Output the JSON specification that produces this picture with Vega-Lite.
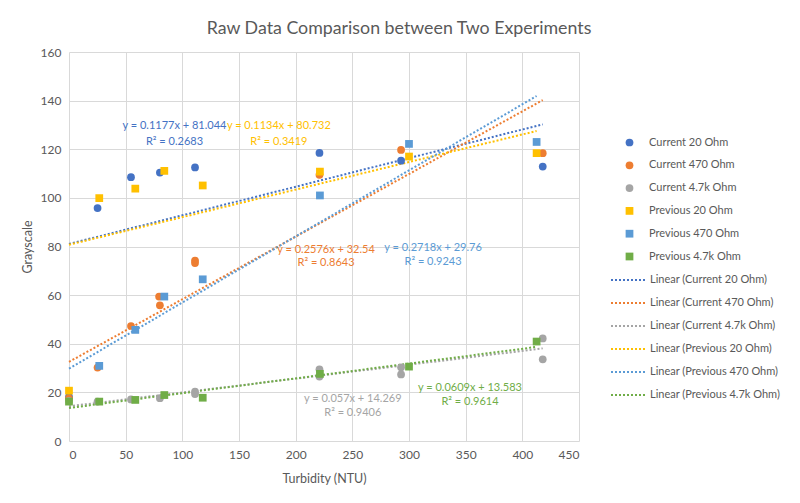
{
  "$schema": "https://vega.github.io/schema/vega-lite/v6.json",
  "width": 510,
  "height": 389,
  "autosize": {"type": "none"},
  "padding": {"left": 69, "top": 52, "right": 221, "bottom": 62},
  "background": "white",
  "title": {
    "text": "Raw Data Comparison between Two Experiments",
    "anchor": "middle",
    "frame": "group",
    "dx": 75,
    "offset": 8,
    "font": "Lato",
    "fontSize": 17.8,
    "fontWeight": "normal",
    "color": "#595959"
  },
  "config": {
    "view": {"stroke": null},
    "axis": {
      "labelFont": "Lato",
      "labelFontSize": 12,
      "labelColor": "#595959",
      "titleFont": "Lato",
      "titleFontSize": 12.5,
      "titleFontWeight": "normal",
      "titleColor": "#595959",
      "gridColor": "#d9d9d9",
      "gridWidth": 1,
      "ticks": false,
      "domain": false
    },
    "legend": {
      "labelFont": "Lato",
      "labelFontSize": 11,
      "labelColor": "#595959",
      "padding": 0
    }
  },
  "datasets": {
    "points": [
      {"series": "Current 20 Ohm", "turbidity": 0, "gray": 18.2},
      {"series": "Current 20 Ohm", "turbidity": 25.2, "gray": 95.8},
      {"series": "Current 20 Ohm", "turbidity": 54.7, "gray": 108.5},
      {"series": "Current 20 Ohm", "turbidity": 80.2, "gray": 110.4},
      {"series": "Current 20 Ohm", "turbidity": 111.2, "gray": 112.5},
      {"series": "Current 20 Ohm", "turbidity": 221, "gray": 118.5},
      {"series": "Current 20 Ohm", "turbidity": 293, "gray": 115.3},
      {"series": "Current 20 Ohm", "turbidity": 418, "gray": 112.9},
      {"series": "Current 470 Ohm", "turbidity": 0, "gray": 17.5},
      {"series": "Current 470 Ohm", "turbidity": 25.2, "gray": 30.2},
      {"series": "Current 470 Ohm", "turbidity": 54.7, "gray": 47.3},
      {"series": "Current 470 Ohm", "turbidity": 79.5, "gray": 59.4},
      {"series": "Current 470 Ohm", "turbidity": 80.2, "gray": 55.8},
      {"series": "Current 470 Ohm", "turbidity": 111.2, "gray": 74.2},
      {"series": "Current 470 Ohm", "turbidity": 111.2, "gray": 73.2},
      {"series": "Current 470 Ohm", "turbidity": 221, "gray": 109.5},
      {"series": "Current 470 Ohm", "turbidity": 293, "gray": 119.7},
      {"series": "Current 470 Ohm", "turbidity": 418, "gray": 118.4},
      {"series": "Current 4.7k Ohm", "turbidity": 0, "gray": 16.5},
      {"series": "Current 4.7k Ohm", "turbidity": 25.2, "gray": 16.2},
      {"series": "Current 4.7k Ohm", "turbidity": 54.7, "gray": 17.1},
      {"series": "Current 4.7k Ohm", "turbidity": 80.2, "gray": 17.6},
      {"series": "Current 4.7k Ohm", "turbidity": 111.2, "gray": 20.3},
      {"series": "Current 4.7k Ohm", "turbidity": 111.2, "gray": 19.3},
      {"series": "Current 4.7k Ohm", "turbidity": 221, "gray": 29.5},
      {"series": "Current 4.7k Ohm", "turbidity": 221, "gray": 26.5},
      {"series": "Current 4.7k Ohm", "turbidity": 293, "gray": 30.3},
      {"series": "Current 4.7k Ohm", "turbidity": 293, "gray": 27.4},
      {"series": "Current 4.7k Ohm", "turbidity": 418, "gray": 42.2},
      {"series": "Current 4.7k Ohm", "turbidity": 418, "gray": 33.6},
      {"series": "Previous 20 Ohm", "turbidity": 0, "gray": 20.7},
      {"series": "Previous 20 Ohm", "turbidity": 26.7, "gray": 99.9},
      {"series": "Previous 20 Ohm", "turbidity": 58.5, "gray": 103.8},
      {"series": "Previous 20 Ohm", "turbidity": 84.1, "gray": 111.1},
      {"series": "Previous 20 Ohm", "turbidity": 118, "gray": 105.1},
      {"series": "Previous 20 Ohm", "turbidity": 221.4, "gray": 110.8},
      {"series": "Previous 20 Ohm", "turbidity": 300, "gray": 117},
      {"series": "Previous 20 Ohm", "turbidity": 412.6, "gray": 118.4},
      {"series": "Previous 470 Ohm", "turbidity": 26.7, "gray": 30.9},
      {"series": "Previous 470 Ohm", "turbidity": 58.5, "gray": 45.7},
      {"series": "Previous 470 Ohm", "turbidity": 84.1, "gray": 59.4},
      {"series": "Previous 470 Ohm", "turbidity": 118, "gray": 66.5},
      {"series": "Previous 470 Ohm", "turbidity": 221.4, "gray": 101},
      {"series": "Previous 470 Ohm", "turbidity": 300, "gray": 122.2},
      {"series": "Previous 470 Ohm", "turbidity": 412.6, "gray": 123},
      {"series": "Previous 4.7k Ohm", "turbidity": 0, "gray": 16.2},
      {"series": "Previous 4.7k Ohm", "turbidity": 26.7, "gray": 16.2},
      {"series": "Previous 4.7k Ohm", "turbidity": 58.5, "gray": 16.9},
      {"series": "Previous 4.7k Ohm", "turbidity": 84.1, "gray": 18.9},
      {"series": "Previous 4.7k Ohm", "turbidity": 118, "gray": 17.8},
      {"series": "Previous 4.7k Ohm", "turbidity": 221.4, "gray": 27.6},
      {"series": "Previous 4.7k Ohm", "turbidity": 300, "gray": 30.6},
      {"series": "Previous 4.7k Ohm", "turbidity": 412.6, "gray": 40.9}
    ],
    "trends": [
      {"trend": "Linear (Current 20 Ohm)", "turbidity": 0, "gray": 81.044},
      {"trend": "Linear (Current 20 Ohm)", "turbidity": 418, "gray": 130.24},
      {"trend": "Linear (Current 470 Ohm)", "turbidity": 0, "gray": 32.54},
      {"trend": "Linear (Current 470 Ohm)", "turbidity": 418, "gray": 140.22},
      {"trend": "Linear (Current 4.7k Ohm)", "turbidity": 0, "gray": 14.269},
      {"trend": "Linear (Current 4.7k Ohm)", "turbidity": 418, "gray": 38.1},
      {"trend": "Linear (Previous 20 Ohm)", "turbidity": 0, "gray": 80.732},
      {"trend": "Linear (Previous 20 Ohm)", "turbidity": 412.6, "gray": 127.52},
      {"trend": "Linear (Previous 470 Ohm)", "turbidity": 0, "gray": 29.76},
      {"trend": "Linear (Previous 470 Ohm)", "turbidity": 412.6, "gray": 141.9},
      {"trend": "Linear (Previous 4.7k Ohm)", "turbidity": 0, "gray": 13.583},
      {"trend": "Linear (Previous 4.7k Ohm)", "turbidity": 412.6, "gray": 38.71}
    ],
    "equations": [
      {"trend": "Linear (Current 20 Ohm)", "turbidity": 93.1, "gray": 129.7, "label": "y = 0.1177x + 81.044"},
      {"trend": "Linear (Current 20 Ohm)", "turbidity": 93.1, "gray": 123.1, "label": "R² = 0.2683"},
      {"trend": "Linear (Previous 20 Ohm)", "turbidity": 185.2, "gray": 129.7, "label": "y = 0.1134x + 80.732"},
      {"trend": "Linear (Previous 20 Ohm)", "turbidity": 185.2, "gray": 123.1, "label": "R² = 0.3419"},
      {"trend": "Linear (Current 470 Ohm)", "turbidity": 226.8, "gray": 78.6, "label": "y = 0.2576x + 32.54"},
      {"trend": "Linear (Current 470 Ohm)", "turbidity": 226.8, "gray": 73.1, "label": "R² = 0.8643"},
      {"trend": "Linear (Previous 470 Ohm)", "turbidity": 321.2, "gray": 79.3, "label": "y = 0.2718x + 29.76"},
      {"trend": "Linear (Previous 470 Ohm)", "turbidity": 321.2, "gray": 73.5, "label": "R² = 0.9243"},
      {"trend": "Linear (Current 4.7k Ohm)", "turbidity": 250.4, "gray": 17.2, "label": "y = 0.057x + 14.269"},
      {"trend": "Linear (Current 4.7k Ohm)", "turbidity": 250.4, "gray": 11.4, "label": "R² = 0.9406"},
      {"trend": "Linear (Previous 4.7k Ohm)", "turbidity": 353.8, "gray": 21.9, "label": "y = 0.0609x + 13.583"},
      {"trend": "Linear (Previous 4.7k Ohm)", "turbidity": 353.8, "gray": 15.9, "label": "R² = 0.9614"}
    ]
  },
  "resolve": {
    "scale": {"color": "independent", "shape": "independent"},
    "legend": {"color": "independent", "shape": "independent"}
  },
  "layer": [
    {
      "data": {"name": "trends"},
      "mark": {"type": "line", "strokeDash": [2, 2], "strokeWidth": 2},
      "encoding": {
        "x": {
          "field": "turbidity",
          "type": "quantitative",
          "scale": {"domain": [0, 450], "nice": false, "zero": false},
          "axis": {
            "title": "Turbidity (NTU)",
            "values": [0, 50, 100, 150, 200, 250, 300, 350, 400, 450],
            "labelPadding": 8,
            "titlePadding": 12
          }
        },
        "y": {
          "field": "gray",
          "type": "quantitative",
          "scale": {"domain": [0, 160], "nice": false},
          "axis": {
            "title": "Grayscale",
            "values": [0, 20, 40, 60, 80, 100, 120, 140, 160],
            "labelPadding": 8,
            "titlePadding": 6
          }
        },
        "color": {
          "field": "trend",
          "type": "nominal",
          "scale": {
            "domain": ["Linear (Current 20 Ohm)", "Linear (Current 470 Ohm)", "Linear (Current 4.7k Ohm)", "Linear (Previous 20 Ohm)", "Linear (Previous 470 Ohm)", "Linear (Previous 4.7k Ohm)"],
            "range": ["#4472C4", "#ED7D31", "#A5A5A5", "#FFC000", "#5B9BD5", "#70AD47"]
          },
          "legend": {
            "orient": "none",
            "legendX": 541,
            "legendY": 210,
            "title": null,
            "symbolType": "stroke",
            "symbolSize": 1156,
            "symbolDash": [2, 2],
            "symbolStrokeWidth": 2,
            "labelOffset": 4,
            "rowPadding": -0.8
          }
        }
      }
    },
    {
      "data": {"name": "points"},
      "mark": {"type": "point", "filled": true, "opacity": 1, "size": 60},
      "encoding": {
        "x": {"field": "turbidity", "type": "quantitative"},
        "y": {"field": "gray", "type": "quantitative"},
        "color": {
          "field": "series",
          "type": "nominal",
          "scale": {
            "domain": ["Current 20 Ohm", "Current 470 Ohm", "Current 4.7k Ohm", "Previous 20 Ohm", "Previous 470 Ohm", "Previous 4.7k Ohm"],
            "range": ["#4472C4", "#ED7D31", "#A5A5A5", "#FFC000", "#5B9BD5", "#70AD47"]
          },
          "legend": {
            "orient": "none",
            "legendX": 541,
            "legendY": 85,
            "title": null,
            "symbolSize": 60,
            "symbolOffset": 14,
            "labelOffset": 14,
            "rowPadding": 10.8
          }
        },
        "shape": {
          "field": "series",
          "type": "nominal",
          "scale": {
            "domain": ["Current 20 Ohm", "Current 470 Ohm", "Current 4.7k Ohm", "Previous 20 Ohm", "Previous 470 Ohm", "Previous 4.7k Ohm"],
            "range": ["circle", "circle", "circle", "square", "square", "square"]
          },
          "legend": {
            "orient": "none",
            "legendX": 541,
            "legendY": 85,
            "title": null,
            "symbolSize": 60,
            "symbolOffset": 14,
            "labelOffset": 14,
            "rowPadding": 10.8
          }
        }
      }
    },
    {
      "data": {"name": "equations"},
      "mark": {"type": "text", "font": "Lato", "fontSize": 11, "align": "center", "baseline": "middle"},
      "encoding": {
        "x": {"field": "turbidity", "type": "quantitative"},
        "y": {"field": "gray", "type": "quantitative"},
        "text": {"field": "label", "type": "nominal"},
        "color": {
          "field": "trend",
          "type": "nominal",
          "scale": {
            "domain": ["Linear (Current 20 Ohm)", "Linear (Current 470 Ohm)", "Linear (Current 4.7k Ohm)", "Linear (Previous 20 Ohm)", "Linear (Previous 470 Ohm)", "Linear (Previous 4.7k Ohm)"],
            "range": ["#4472C4", "#ED7D31", "#A5A5A5", "#FFC000", "#5B9BD5", "#70AD47"]
          },
          "legend": null
        }
      }
    }
  ]
}
